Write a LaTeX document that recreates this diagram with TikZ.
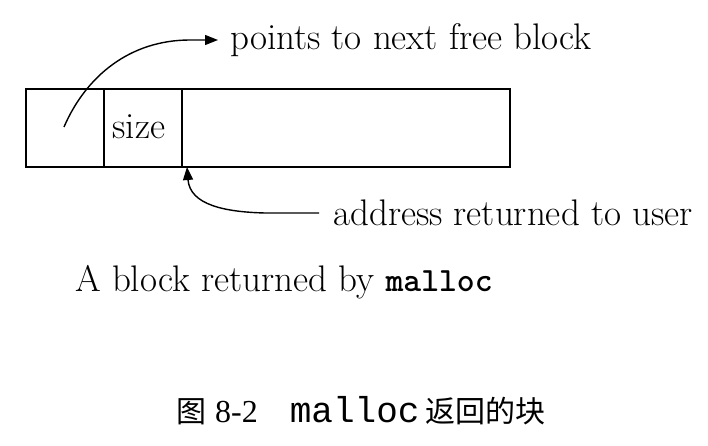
\documentclass[tikz,border=0pt]{standalone}
\usepackage{fontspec}
\newfontfamily\cjk{Noto Sans CJK SC}
\newfontfamily\capserif{Liberation Serif}
\newfontfamily\capmono{Liberation Mono}
\usetikzlibrary{arrows.meta}
\begin{document}
\begin{tikzpicture}[x=1pt,y=-1pt,
  cell/.style={draw,line width=1.6pt,minimum height=78pt,inner sep=0pt,anchor=north west},
  lbl/.style={font=\fontsize{37}{44}\selectfont,inner sep=0pt},
  ptr/.style={line width=1.4pt,-{Triangle[length=13pt,width=10pt]}}]
\useasboundingbox (0,0) rectangle (708,446);
\node[cell,minimum width=78pt] (c1) at (25,88) {};
\node[cell,minimum width=78pt] (c2) at (103,88) {};
\node[cell,minimum width=328pt] (c3) at (181,88) {};
\node[lbl] (sz) at (139,127) {size};
\coordinate (start) at (64,127);
\node[lbl,anchor=west] (pts) at (230,40) {points to next free block};
\node[lbl,anchor=west] (addr) at (333,213) {address returned to user};
\coordinate (ret) at (187,167);
\draw[ptr,shorten >=12pt] (start) .. controls (86,76) and (130,40) .. (190,40) -- (pts.west);
\draw[ptr] (addr.west) ++(-14pt,0) -- (265,213) .. controls (225,212) and (190,205) .. (ret);
\node[lbl,anchor=west] (title) at (75,282) {A block returned by {\ttfamily\bfseries\fontsize{34}{44}\selectfont malloc}};
\node[anchor=west,inner sep=0pt] (cap) at (176,411) {{\cjk\fontsize{30}{34}\selectfont 图}\hspace{9pt}{\capserif\fontsize{32}{36}\selectfont 8-2}\hspace{32pt}{\capmono\fontsize{36}{40}\selectfont malloc}\hspace{6pt}{\cjk\fontsize{30}{34}\selectfont 返回的块}};
\end{tikzpicture}
\end{document}
